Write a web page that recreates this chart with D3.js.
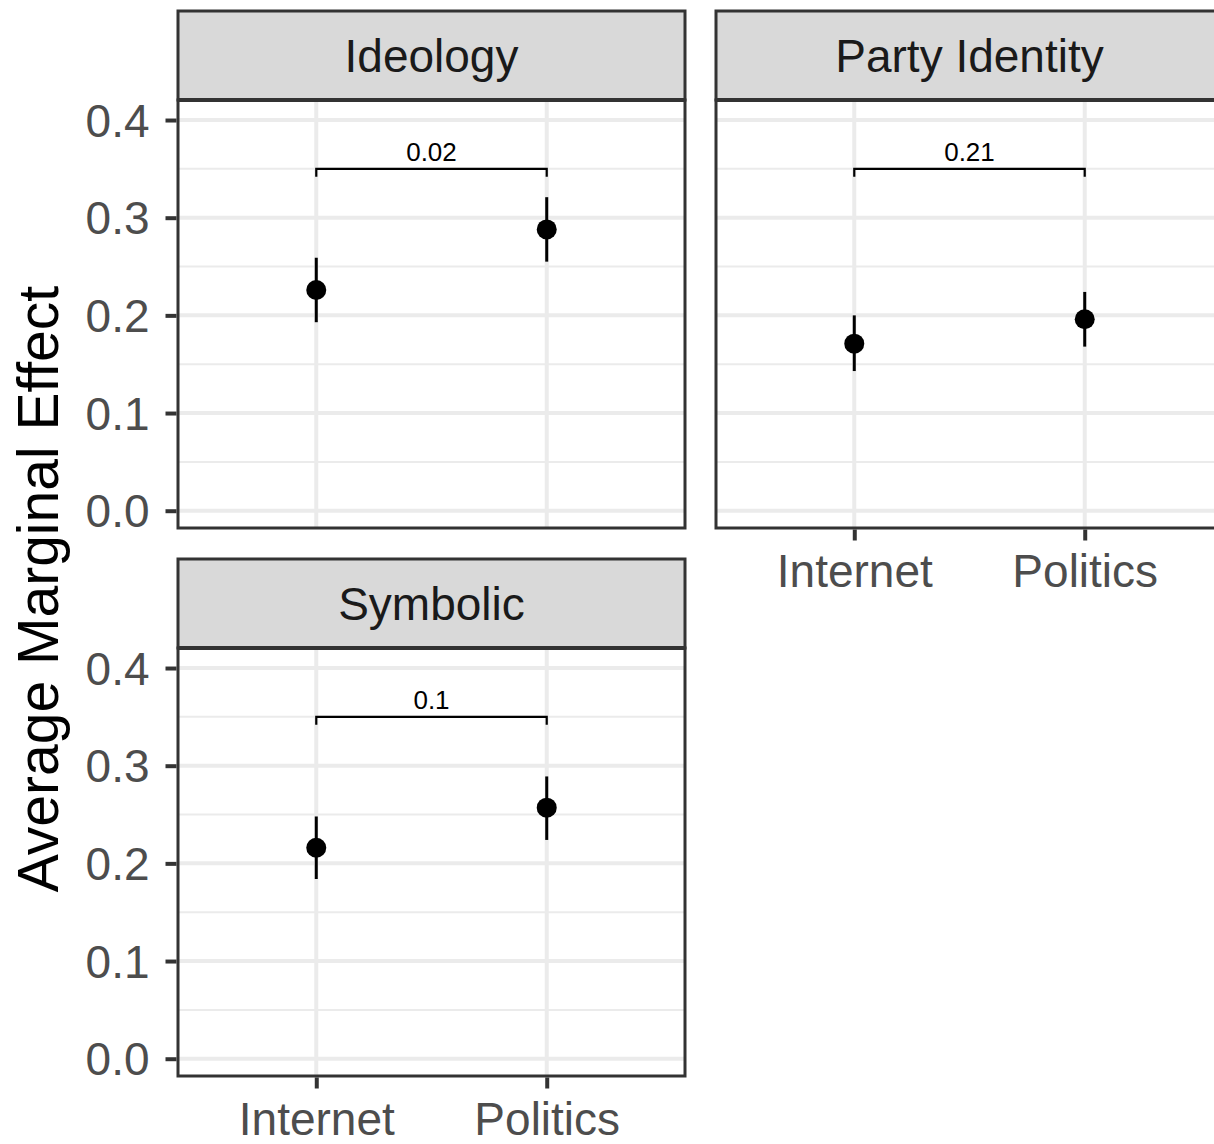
<!DOCTYPE html>
<html>
<head>
<meta charset="utf-8">
<script src="https://cdn.jsdelivr.net/npm/d3@7"></script>
<style>
  html, body { margin: 0; padding: 0; background: #ffffff; }
  svg { display: block; }
  text { font-family: "Liberation Sans", Arial, sans-serif; }
</style>
</head>
<body>
<svg id="chart" width="1214" height="1144"></svg>
<script>
// Facets, sources and estimates (average marginal effect with 95% interval)
const facets = ["Ideology", "Party Identity", "Symbolic"];
const sources = ["Internet", "Politics"];
const estimate = [[0.226, 0.288], [0.171, 0.196], [0.216, 0.257]];
const lower    = [[0.193, 0.255], [0.143, 0.168], [0.184, 0.224]];
const upper    = [[0.259, 0.321], [0.200, 0.224], [0.248, 0.289]];
const diffLabels = ["0.02", "0.21", "0.1"];
const bracketLevel = 0.35;
const yTicks = [0, 0.1, 0.2, 0.3, 0.4];
const yMinor = [0.05, 0.15, 0.25, 0.35];

const svg = d3.select("#chart");

// Facet grid geometry: two columns, two rows (bottom-right cell empty)
const panelW = 507, panelH = 428, stripH = 89;
const colX = [178, 716];
const rowTop = [11, 559];
const cells = [{c: 0, r: 0}, {c: 1, r: 0}, {c: 0, r: 1}];
const yDomain = [-0.0177, 0.4205];

const border = "#333333";

facets.forEach((name, i) => {
  const cell = cells[i];
  const x0 = colX[cell.c];
  const sTop = rowTop[cell.r];
  const pTop = sTop + stripH;
  const pBot = pTop + panelH;

  const x = d3.scalePoint().domain(sources).range([x0, x0 + panelW]).padding(0.6);
  const y = d3.scaleLinear().domain(yDomain).range([pBot, pTop]);

  const g = svg.append("g");

  // panel background
  g.append("rect").attr("x", x0).attr("y", pTop).attr("width", panelW).attr("height", panelH)
    .attr("fill", "#ffffff");

  // grid lines
  g.selectAll(".minor").data(yMinor).join("line")
    .attr("x1", x0).attr("x2", x0 + panelW)
    .attr("y1", d => y(d)).attr("y2", d => y(d))
    .attr("stroke", "#ebebeb").attr("stroke-width", 2);
  g.selectAll(".majorY").data(yTicks).join("line")
    .attr("x1", x0).attr("x2", x0 + panelW)
    .attr("y1", d => y(d)).attr("y2", d => y(d))
    .attr("stroke", "#ebebeb").attr("stroke-width", 4);
  g.selectAll(".majorX").data(sources).join("line")
    .attr("x1", d => x(d)).attr("x2", d => x(d))
    .attr("y1", pTop).attr("y2", pBot)
    .attr("stroke", "#ebebeb").attr("stroke-width", 4);

  // comparison bracket with p-value label
  const xa = x(sources[0]), xb = x(sources[1]), yb = y(bracketLevel);
  g.append("path")
    .attr("d", `M${xa},${yb + 8}V${yb}H${xb}V${yb + 8}`)
    .attr("fill", "none").attr("stroke", "#000").attr("stroke-width", 2.2);
  g.append("text")
    .attr("x", (xa + xb) / 2).attr("y", yb - 8)
    .attr("text-anchor", "middle").attr("font-size", 26).attr("fill", "#000")
    .text(diffLabels[i]);

  // interval lines and point estimates
  sources.forEach((s, j) => {
    g.append("line")
      .attr("x1", x(s)).attr("x2", x(s))
      .attr("y1", y(lower[i][j])).attr("y2", y(upper[i][j]))
      .attr("stroke", "#000").attr("stroke-width", 3);
    g.append("circle")
      .attr("cx", x(s)).attr("cy", y(estimate[i][j])).attr("r", 10)
      .attr("fill", "#000");
  });

  // panel border
  g.append("rect").attr("x", x0).attr("y", pTop).attr("width", panelW).attr("height", panelH)
    .attr("fill", "none").attr("stroke", border).attr("stroke-width", 3);

  // strip
  g.append("rect").attr("x", x0).attr("y", sTop).attr("width", panelW).attr("height", stripH)
    .attr("fill", "#d9d9d9").attr("stroke", border).attr("stroke-width", 3);
  g.append("line").attr("x1", x0).attr("x2", x0 + panelW).attr("y1", pTop).attr("y2", pTop)
    .attr("stroke", border).attr("stroke-width", 4);
  g.append("text")
    .attr("x", x0 + panelW / 2).attr("y", sTop + stripH / 2 + 16)
    .attr("text-anchor", "middle").attr("font-size", 46).attr("fill", "#1a1a1a")
    .text(name);

  // y axis on left column
  if (cell.c === 0) {
    const ay = g.append("g").attr("transform", `translate(${x0 - 1.5},0)`)
      .call(d3.axisLeft(y).tickValues(yTicks).tickFormat(d3.format(".1f")).tickSize(11).tickPadding(16));
    ay.select(".domain").remove();
    ay.selectAll(".tick line").attr("stroke", border).attr("stroke-width", 4);
    ay.selectAll(".tick text").attr("font-size", 46).attr("fill", "#4d4d4d")
      .attr("font-family", "Liberation Sans, Arial, sans-serif").attr("dy", "0.35em");
  }

  // x axis on panels with nothing below them
  if (i !== 0) {
    const ax = g.append("g").attr("transform", `translate(0,${pBot + 1.5})`)
      .call(d3.axisBottom(x).tickSize(11).tickPadding(14));
    ax.select(".domain").remove();
    ax.selectAll(".tick line").attr("stroke", border).attr("stroke-width", 4);
    ax.selectAll(".tick text").attr("font-size", 46).attr("fill", "#4d4d4d")
      .attr("font-family", "Liberation Sans, Arial, sans-serif").attr("dy", "0.71em");
  }
});

// y axis title
svg.append("text")
  .attr("transform", "translate(58,589) rotate(-90)")
  .attr("text-anchor", "middle").attr("font-size", 57).attr("fill", "#000")
  .text("Average Marginal Effect");
</script>
</body>
</html>
